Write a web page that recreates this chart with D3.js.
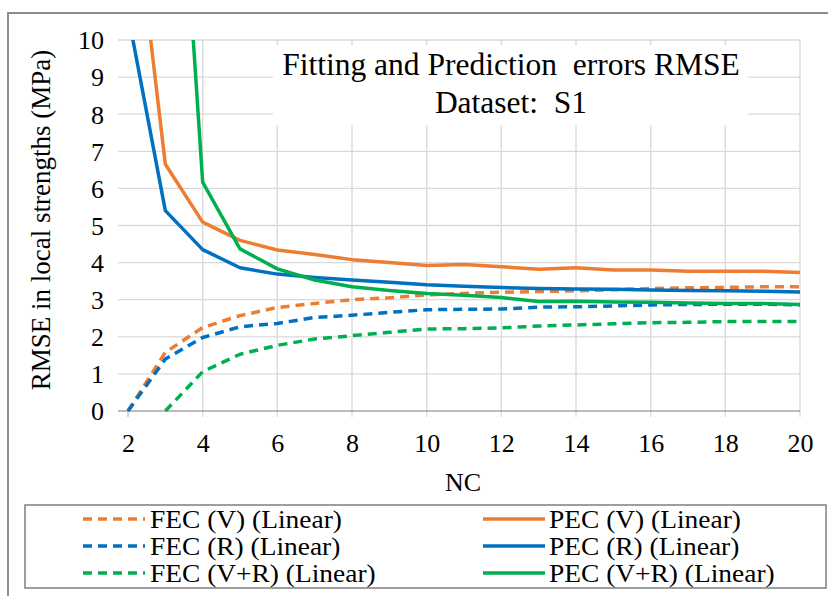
<!DOCTYPE html>
<html><head><meta charset="utf-8">
<script src="https://cdn.jsdelivr.net/npm/d3@7"></script>
</head><body style="margin:0;background:#fff"><svg id="c" width="828" height="596" style="display:block"></svg>
<script>
const nc = [2,3,4,5,6,7,8,9,10,11,12,13,14,15,16,17,18,19,20];
const fecV  = [0,1.58,2.25,2.57,2.79,2.9,3.0,3.05,3.13,3.17,3.2,3.22,3.24,3.27,3.3,3.32,3.33,3.35,3.35];
const fecR  = [0,1.4,1.98,2.27,2.36,2.52,2.58,2.66,2.73,2.74,2.75,2.8,2.81,2.83,2.86,2.87,2.88,2.88,2.86];
const fecVR = [null,0,1.06,1.53,1.77,1.94,2.03,2.12,2.21,2.22,2.24,2.29,2.32,2.35,2.38,2.39,2.41,2.41,2.41];
const pecV  = [15.2,6.65,5.09,4.6,4.34,4.22,4.08,4.0,3.92,3.95,3.89,3.82,3.86,3.8,3.8,3.77,3.77,3.77,3.73];
const pecR  = [10.7,5.4,4.35,3.86,3.69,3.6,3.53,3.47,3.4,3.36,3.33,3.3,3.29,3.28,3.26,3.25,3.24,3.23,3.21];
const pecVR = [null,21.4,6.17,4.37,3.83,3.53,3.35,3.25,3.17,3.12,3.06,2.95,2.96,2.94,2.93,2.91,2.9,2.9,2.87];
const xTicks = [2,4,6,8,10,12,14,16,18,20];
const yTicks = [0,1,2,3,4,5,6,7,8,9,10];
const titleLines = ["Fitting and Prediction\u00a0 errors RMSE","Dataset:\u00a0 S1"];
const xLabel = "NC";
const yLabel = "RMSE in local strengths (MPa)";
const series = [
  {name:"FEC (V) (Linear)", vals:fecV, color:"#ED7D31", dash:true},
  {name:"FEC (R) (Linear)", vals:fecR, color:"#0070C0", dash:true},
  {name:"FEC (V+R) (Linear)", vals:fecVR, color:"#00B050", dash:true},
  {name:"PEC (V) (Linear)", vals:pecV, color:"#ED7D31", dash:false},
  {name:"PEC (R) (Linear)", vals:pecR, color:"#0070C0", dash:false},
  {name:"PEC (V+R) (Linear)", vals:pecVR, color:"#00B050", dash:false}
];
const FF = "Liberation Serif";
const svg = d3.select("#c");
const L=128, R=800, T=40, B=411;
const x = d3.scaleLinear().domain([2,20]).range([L,R]);
const y = d3.scaleLinear().domain([0,10]).range([B,T]);

// outer frame
svg.append("rect").attr("x",8).attr("y",13).attr("width",830).attr("height",600)
  .attr("fill","none").attr("stroke","#8c8c8c").attr("stroke-width",2);

// gridlines
svg.append("g").selectAll("line").data(yTicks.filter(d=>d>0)).join("line")
  .attr("x1",L-10).attr("x2",R).attr("y1",d=>y(d)).attr("y2",d=>y(d))
  .attr("stroke","#d9d9d9").attr("stroke-width",1.3);
svg.append("g").selectAll("line").data(xTicks.filter(d=>d>2)).join("line")
  .attr("x1",d=>x(d)).attr("x2",d=>x(d)).attr("y1",T).attr("y2",B+6)
  .attr("stroke","#d9d9d9").attr("stroke-width",1.3);
svg.append("line").attr("x1",x(2)).attr("x2",x(2)).attr("y1",B).attr("y2",B+6).attr("stroke","#bfbfbf").attr("stroke-width",1.3);
svg.append("line").attr("x1",L-10).attr("x2",R).attr("y1",B).attr("y2",B).attr("stroke","#a6a6a6").attr("stroke-width",1.5);

// title box
svg.append("rect").attr("x",273).attr("y",45).attr("width",475).attr("height",80).attr("fill","#fff");
svg.append("g").selectAll("text").data(titleLines).join("text")
  .attr("x",511).attr("y",(d,i)=>75+i*38).attr("text-anchor","middle")
  .style("font-family",FF).attr("font-size",31.5).attr("fill","#000").text(d=>d);

// axes labels
const yAxis = d3.axisLeft(y).tickValues(yTicks).tickSize(0).tickPadding(0);
const ga = svg.append("g").attr("transform",`translate(104,0)`).call(yAxis);
ga.select(".domain").remove();
ga.selectAll("text").attr("font-size",26).style("font-family",FF).attr("fill","#000").attr("dy","0.34em");
const xAxis = d3.axisBottom(x).tickValues(xTicks).tickSize(0).tickPadding(0);
const gx = svg.append("g").attr("transform",`translate(0,${B+41})`).call(xAxis);
gx.select(".domain").remove();
gx.selectAll("text").attr("font-size",26).style("font-family",FF).attr("fill","#000").attr("dy",0);

svg.append("text").attr("x",463).attr("y",491).attr("text-anchor","middle").style("font-family",FF).attr("font-size",26).text(xLabel);
svg.append("text").attr("transform","translate(50,220) rotate(-90)").attr("text-anchor","middle").style("font-family",FF).attr("font-size",27).text(yLabel);

// lines
svg.append("clipPath").attr("id","clip").append("rect").attr("x",L-4).attr("y",T).attr("width",R-L+8).attr("height",B-T+4);
const line = d3.line().defined(d=>d[1]!=null).x(d=>x(d[0])).y(d=>y(d[1]));
const gl = svg.append("g").attr("clip-path","url(#clip)");
series.forEach(s=>{
  gl.append("path").datum(nc.map((n,i)=>[n,s.vals[i]]))
    .attr("d",line).attr("fill","none").attr("stroke",s.color).attr("stroke-width",3.5)
    .attr("stroke-linejoin","round")
    .attr("stroke-dasharray",s.dash?"9,6":null);
});

// legend
svg.append("rect").attr("x",25).attr("y",505).attr("width",801).attr("height",83)
  .attr("fill","#fff").attr("stroke","#7f7f7f").attr("stroke-width",1.5);
series.forEach((s,i)=>{
  const col = i<3?0:1, row = i%3;
  const lx = col===0?83:483, tx = col===0?150:549;
  const ly = 519+row*27;
  svg.append("line").attr("x1",lx).attr("x2",lx+62).attr("y1",ly).attr("y2",ly)
    .attr("stroke",s.color).attr("stroke-width",3.5).attr("stroke-dasharray",s.dash?"9,6":null);
  svg.append("text").attr("transform",`translate(${tx},${ly+9}) scale(1.055,1)`)
    .style("font-family",FF).attr("font-size",26).text(s.name);
});
</script></body></html>
